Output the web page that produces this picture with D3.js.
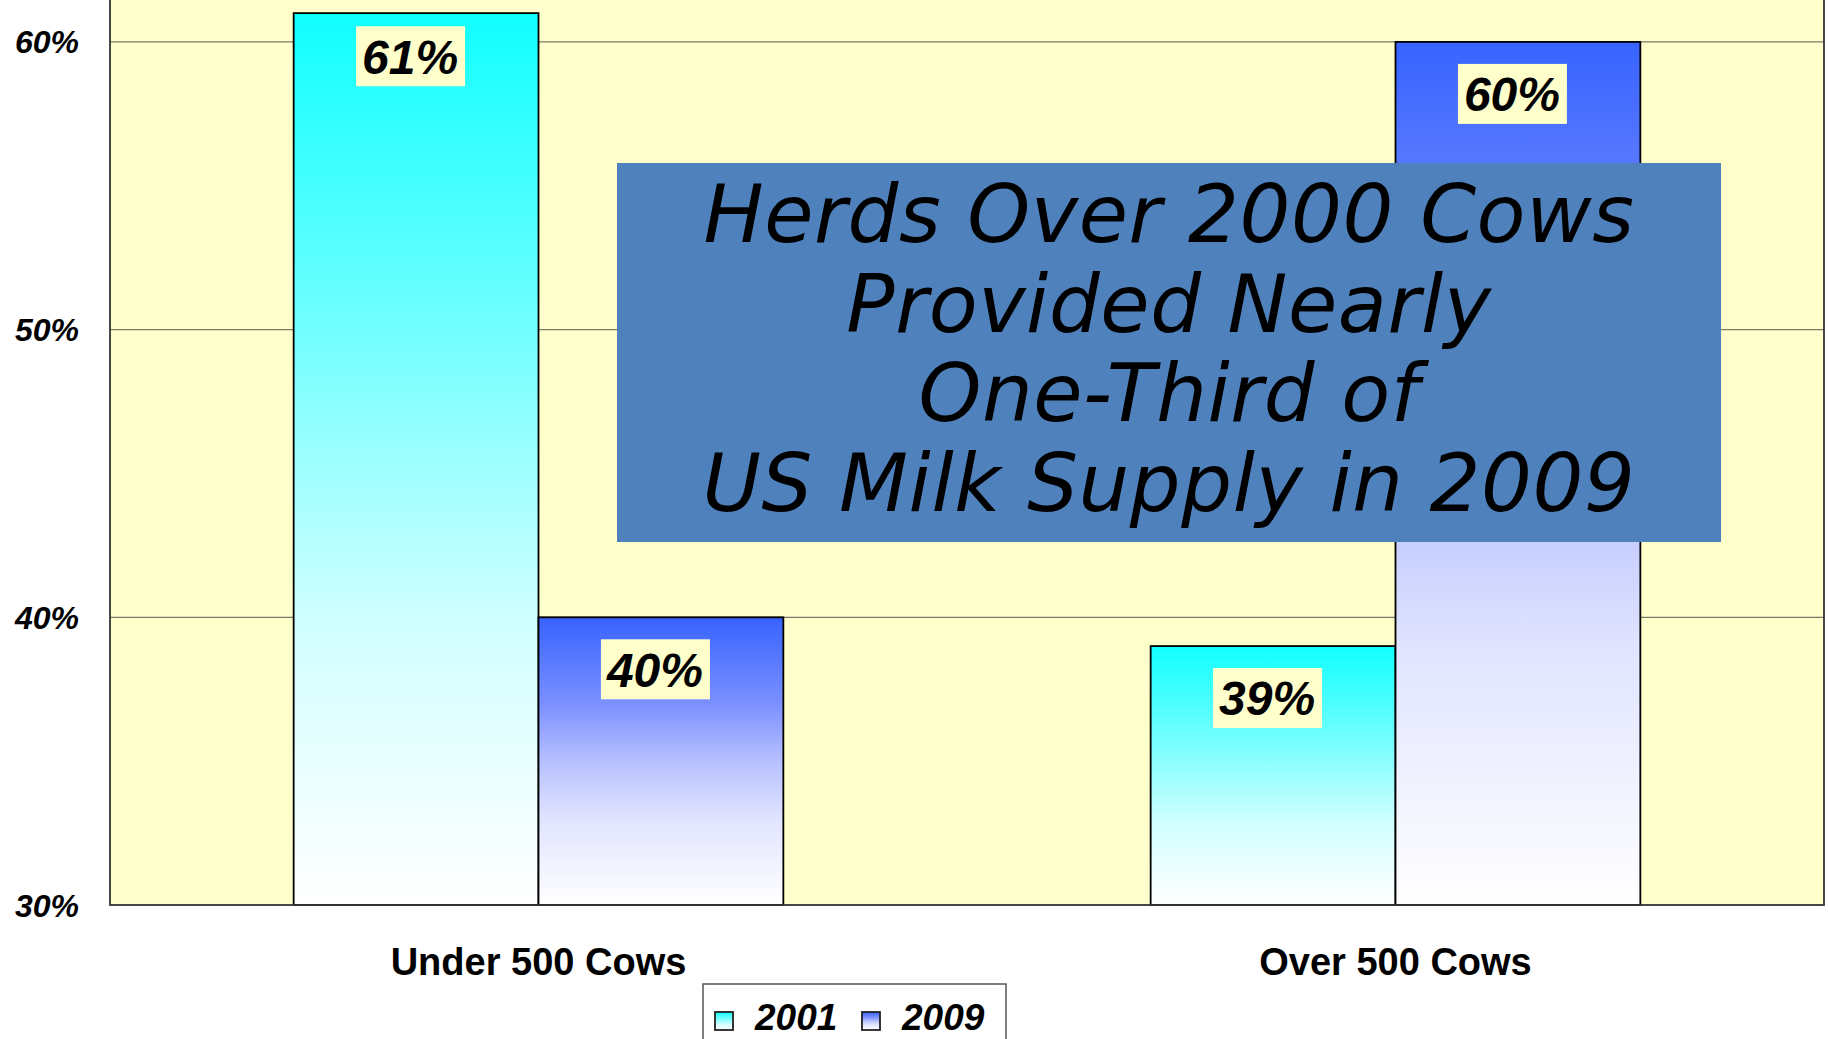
<!DOCTYPE html>
<html>
<head>
<meta charset="utf-8">
<script src="https://cdn.jsdelivr.net/npm/d3@7"></script>
<style>
  html, body { margin: 0; padding: 0; background: #fff; overflow: hidden; }
  svg { display: block; font-family: Arial, "Liberation Sans", sans-serif; }
</style>
</head>
<body>
<svg id="chart" width="1828" height="1039"></svg>
<script>
// chart data
var categories = ["Under 500 Cows", "Over 500 Cows"];
var years = ["2001", "2009"];
var share2001 = [0.61, 0.39];
var share2009 = [0.40, 0.60];
var yTicks = [0.3, 0.4, 0.5, 0.6];
var noteLines = ["Herds Over 2000 Cows", "Provided Nearly", "One-Third of", "US Milk Supply in 2009"];

// fade from the series colour at the top of each bar to white at the bottom
var gradStops = {
    "2001": ["#11ffff", "#62ffff", "#9cffff", "#d4ffff", "#ffffff"],
    "2009": ["#3763ff", "#7b90ff", "#b6c0ff", "#e0e4ff", "#ffffff"]
};
var stopAt = [0, 0.3, 0.5, 0.7, 1];

var rows = categories.map(function (c, i) {
    return { cat: c, values: [{ year: "2001", v: share2001[i] }, { year: "2009", v: share2009[i] }] };
});

var svg = d3.select("svg");
var left = 110, right = 1824, bottom = 905;

var y = d3.scaleLinear()
    .domain([0.3, 0.7])
    .range([bottom, bottom - 4 * 287.7]);

var x0 = d3.scaleBand()
    .domain(categories)
    .range([left, right])
    .paddingInner(0.4286)
    .paddingOuter(0.2143);

var x1 = d3.scaleBand()
    .domain(years)
    .range([0, x0.bandwidth()]);

var defs = svg.append("defs");
years.forEach(function (yr) {
    var gr = defs.append("linearGradient")
        .attr("id", "grad" + yr)
        .attr("x1", 0).attr("y1", 0).attr("x2", 0).attr("y2", 1);
    gradStops[yr].forEach(function (c, i) {
        gr.append("stop").attr("offset", stopAt[i]).attr("stop-color", c);
    });
});

// plot background
svg.append("rect")
    .attr("x", left)
    .attr("y", y(0.7))
    .attr("width", right - left)
    .attr("height", y(0.3) - y(0.7))
    .attr("fill", "#ffffcc");

// gridlines
svg.append("g")
    .selectAll("line")
    .data(yTicks.slice(1))
    .enter().append("line")
    .attr("x1", left).attr("x2", right)
    .attr("y1", function (d) { return y(d); })
    .attr("y2", function (d) { return y(d); })
    .attr("stroke", "#7a7a6a")
    .attr("stroke-width", 1.2);

// bars
var groups = svg.append("g")
    .selectAll("g")
    .data(rows)
    .enter().append("g")
    .attr("transform", function (d) { return "translate(" + x0(d.cat) + ",0)"; });

groups.selectAll("rect")
    .data(function (d) { return d.values; })
    .enter().append("rect")
    .attr("x", function (d) { return x1(d.year); })
    .attr("y", function (d) { return y(d.v); })
    .attr("width", x1.bandwidth())
    .attr("height", function (d) { return y(0.3) - y(d.v); })
    .attr("fill", function (d) { return "url(#grad" + d.year + ")"; })
    .attr("stroke", "#000")
    .attr("stroke-width", 1.8);

// data labels
var lab = groups.selectAll("g.lab")
    .data(function (d) { return d.values; })
    .enter().append("g")
    .attr("class", "lab")
    .attr("transform", function (d) {
        // keep the tallest label from crowding the top edge
        var cy = Math.min(y(d.v) + 52, y(d.v) + 42 + Math.max(0, y(d.v) - 12));
        return "translate(" + (x1(d.year) + x1.bandwidth() / 2 - 6) + "," + cy + ")";
    });

lab.append("rect")
    .attr("x", -54).attr("y", -30)
    .attr("width", 109).attr("height", 60)
    .attr("fill", "#ffffcc");

lab.append("text")
    .attr("text-anchor", "middle")
    .attr("dy", "0.36em")
    .style("font-size", "48px")
    .style("font-weight", "bold")
    .style("font-style", "italic")
    .attr("fill", "#000")
    .text(function (d) { return d3.format(".0%")(d.v); });

// plot border
svg.append("rect")
    .attr("x", left)
    .attr("y", y(0.7))
    .attr("width", right - left)
    .attr("height", y(0.3) - y(0.7))
    .attr("fill", "none")
    .attr("stroke", "#333")
    .attr("stroke-width", 1.8);

// y axis labels
svg.append("g")
    .selectAll("text")
    .data(yTicks)
    .enter().append("text")
    .attr("x", 79)
    .attr("y", function (d) { return y(d); })
    .attr("dy", "0.36em")
    .attr("text-anchor", "end")
    .style("font-size", "32px")
    .style("font-weight", "bold")
    .style("font-style", "italic")
    .text(function (d) { return d3.format(".0%")(d); });

// category labels
svg.append("g")
    .selectAll("text")
    .data(categories)
    .enter().append("text")
    .attr("x", function (d) { return x0(d) + x0.bandwidth() / 2; })
    .attr("y", 975)
    .attr("text-anchor", "middle")
    .style("font-size", "38px")
    .style("font-weight", "bold")
    .text(function (d) { return d; });

// legend
var legend = svg.append("g");
legend.append("rect")
    .attr("x", 703).attr("y", 984)
    .attr("width", 303).attr("height", 80)
    .attr("fill", "#fff")
    .attr("stroke", "#555")
    .attr("stroke-width", 1.5);

var li = legend.selectAll("g.item")
    .data(years)
    .enter().append("g")
    .attr("class", "item")
    .attr("transform", function (d, i) { return "translate(" + (715 + i * 147) + ",1012)"; });

li.append("rect")
    .attr("width", 18).attr("height", 18)
    .attr("fill", function (d) { return "url(#grad" + d + ")"; })
    .attr("stroke", "#222")
    .attr("stroke-width", 1.8);

li.append("text")
    .attr("x", 40)
    .attr("y", 18)
    .style("font-size", "37px")
    .style("font-weight", "bold")
    .style("font-style", "italic")
    .text(function (d) { return d; });

// annotation box
var note = svg.append("g");
note.append("rect")
    .attr("x", 617).attr("y", 163)
    .attr("width", 1104).attr("height", 379)
    .attr("fill", "#4f81bd");

note.selectAll("text")
    .data(noteLines)
    .enter().append("text")
    .attr("x", 1169)
    .attr("y", function (d, i) { return 242 + i * 89.5; })
    .attr("text-anchor", "middle")
    .style("font-family", "Verdana, 'DejaVu Sans', sans-serif")
    .style("font-style", "italic")
    .style("font-size", "80px")
    .style("letter-spacing", "0.6px")
    .attr("fill", "#000")
    .text(function (d) { return d; });
</script>
</body>
</html>
